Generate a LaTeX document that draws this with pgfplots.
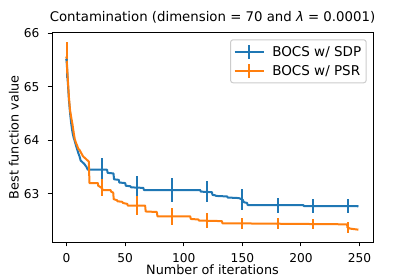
\documentclass[border=0pt]{standalone}
\usepackage{fontspec}
\setmainfont{DejaVu Sans}
\usepackage{pgfplots}
\usepackage{pgfplotstable}
\pgfplotsset{compat=1.18}
\definecolor{tabblue}{HTML}{1F77B4}
\definecolor{taborange}{HTML}{FF7F0E}

\pgfplotstableread{
x y
0 65.50
1 65.10
2 64.75
3 64.50
4 64.30
5 64.15
6 64.05
7 63.98
8 63.90
9 63.83
10 63.76
11 63.70
12 63.62
13 63.60
15 63.56
17 63.50
18 63.45
34.5 63.45
35 63.39
40 63.38
40.5 63.27
44.5 63.26
45 63.21
50 63.20
50.5 63.15
54.5 63.14
55 63.12
65.5 63.11
66 63.07
114 63.07
114.5 63.04
124 63.03
124.5 62.98
127 62.97
127.5 62.96
137 62.95
137.5 62.93
147 62.92
150 62.89
151.5 62.84
154 62.83
154.5 62.79
202 62.79
202.5 62.77
248 62.77
249 62.76
}\sdp

\pgfplotstableread{
x y e
0 65.50 0.34
30 63.45 0.22
60 63.115 0.22
90 63.07 0.22
120 63.04 0.20
150 62.89 0.19
180 62.79 0.14
210 62.77 0.13
240 62.77 0.13
}\sdperr

\pgfplotstableread{
x y
0 65.55
1 65.15
2 64.80
3 64.55
4 64.42
5 64.30
6 64.15
7 64.02
8 63.95
9 63.90
10 63.84
11 63.82
12 63.78
13 63.74
14 63.70
16 63.66
18 63.62
19 63.60
19.5 63.20
26.7 63.20
27 63.15
30 63.11
31 63.07
37.5 63.07
38 63.04
39.8 63.02
40.2 62.90
43 62.88
43.5 62.86
47.5 62.85
48 62.83
51.8 62.81
52.2 62.78
67 62.78
67.5 62.67
77 62.66
77.5 62.58
105.5 62.58
106 62.53
112.5 62.52
113 62.50
132.5 62.49
133 62.45
239 62.43
240 62.37
242 62.35
249 62.33
}\psr

\pgfplotstableread{
x y e
0 65.55 0.29
30 63.11 0.16
60 62.78 0.17
90 62.58 0.16
120 62.495 0.14
150 62.447 0.11
180 62.44 0.10
210 62.435 0.10
240 62.37 0.11
}\psrerr

\begin{document}
\begin{tikzpicture}
\path[use as bounding box] (0,0) rectangle (415pt,277pt);
\begin{axis}[
  at={(52pt,35pt)}, anchor=south west,
  scale only axis, width=321pt, height=209.5pt,
  xmin=-12.45, xmax=261.45, ymin=62.10, ymax=66.01,
  xtick={0,50,100,150,200,250},
  ytick={63,64,65,66},
  tick align=outside,
  major tick length=4.3pt,
  tick style={black, line width=1pt},
  axis line style={line width=1pt},
  xtick pos=bottom, ytick pos=left,
  /pgf/number format/assume math mode=true,
  ticklabel style={font=\fontsize{12.2}{14}\selectfont},
  xticklabel style={anchor=north, inner sep=0pt, yshift=-7.2pt},
  yticklabel style={anchor=east, inner sep=0pt, xshift=-8pt},
  xlabel={Number of iterations},
  ylabel={Best function value},
  label style={font=\fontsize{12.8}{15}\selectfont, inner sep=0pt},
  xlabel style={at={(axis description cs:0.5,-0.1555)}, anchor=base},
  ylabel style={at={(axis description cs:-0.104,0.5)}, anchor=base},
  title={Contamination (dimension = 70 and \textit{λ} = 0.0001)},
  title style={at={(axis description cs:0.5,1.02625)}, anchor=base, inner sep=0pt, font=\fontsize{13.3}{16}\selectfont},
  legend style={at={(axis description cs:1,1)}, anchor=north east,
    xshift=-6.3pt, yshift=-6.8pt, draw=black!20, line width=1pt,
    rounded corners=2.5pt, fill=white,
    font=\fontsize{13.5}{16}\selectfont, inner xsep=3pt, inner ysep=4pt,
    row sep=3pt, nodes={inner sep=2pt},
    /tikz/every odd column/.append style={column sep=5pt}},
  legend cell align=left,
  legend image code/.code={
    \draw[#1, line width=2pt] (0pt,0pt) -- (29.7pt,0pt);
    \draw[#1, line width=2pt] (14.85pt,-7pt) -- (14.85pt,7pt);
  },
]
\addplot[color=tabblue, line width=2pt, line join=round] table[x=x,y=y] {\sdp};
\addlegendentry{BOCS w/ SDP}
\addplot[forget plot, color=tabblue, line width=2pt, only marks,
  mark=*, mark size=0.01pt, mark options={draw=none, fill=none},
  error bars/.cd, y dir=both, y explicit, error mark=none,
  error bar style={draw=tabblue, line width=2pt}]
  table[x=x,y=y,y error=e] {\sdperr};
\addplot[color=taborange, line width=2pt, line join=round] table[x=x,y=y] {\psr};
\addlegendentry{BOCS w/ PSR}
\addplot[forget plot, color=taborange, line width=2pt, only marks,
  mark=*, mark size=0.01pt, mark options={draw=none, fill=none},
  error bars/.cd, y dir=both, y explicit, error mark=none,
  error bar style={draw=taborange, line width=2pt}]
  table[x=x,y=y,y error=e] {\psrerr};
\end{axis}
\end{tikzpicture}
\end{document}
